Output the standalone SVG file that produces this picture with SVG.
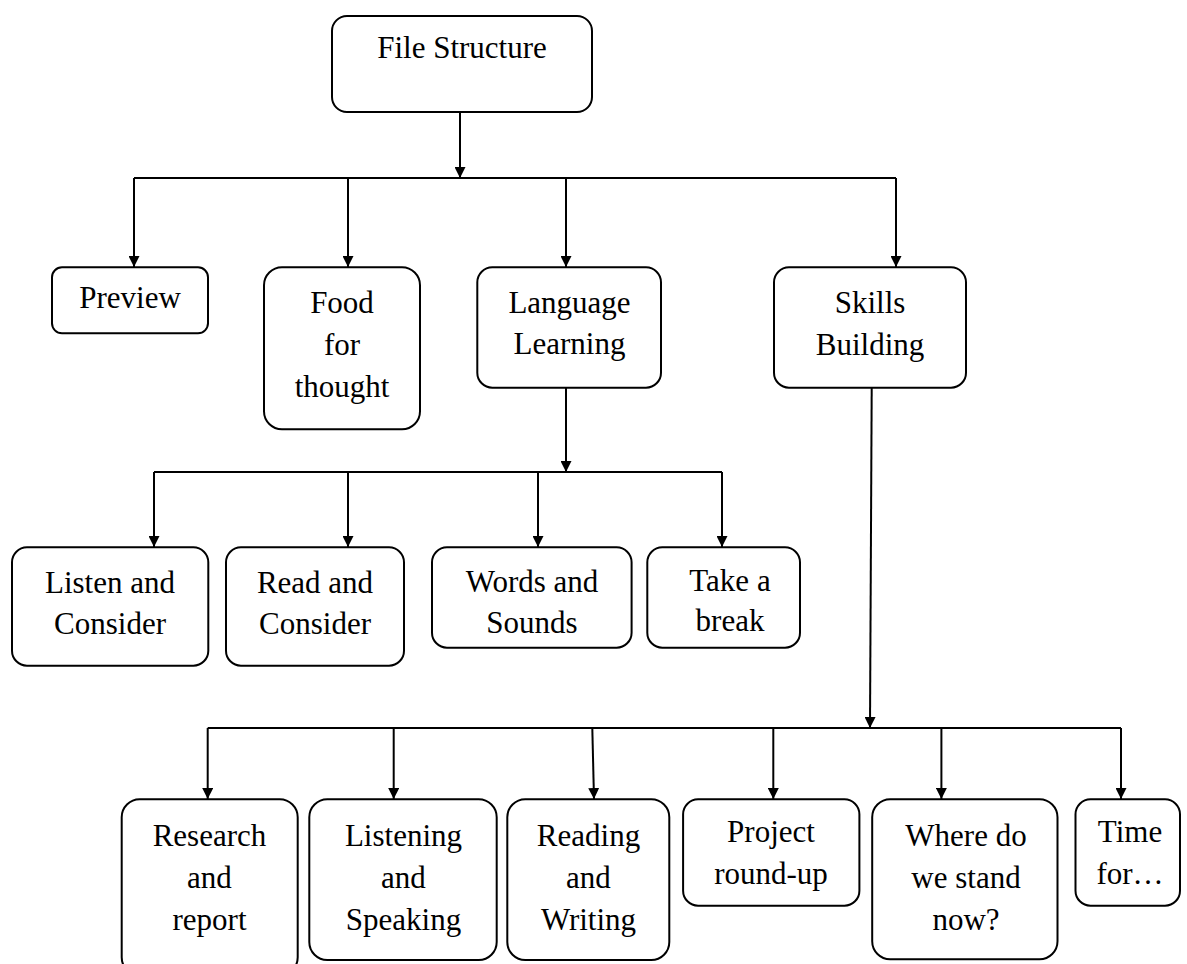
<svg xmlns="http://www.w3.org/2000/svg" width="1187" height="964" viewBox="0 0 1187 964">
<style>
.box{fill:#fff;stroke:#000;stroke-width:2}
.t{font-family:"Liberation Serif","Times New Roman",serif;font-size:31px;fill:#000;text-anchor:middle}
.c{fill:none;stroke:#000;stroke-width:2}
.a{marker-end:url(#arr)}
</style>
<defs>
<marker id="arr" markerUnits="userSpaceOnUse" markerWidth="11" markerHeight="11" refX="11" refY="5.5" orient="auto">
<path d="M0,0 L11,5.5 L0,11 z" fill="#000"/>
</marker>
</defs>
<rect width="1187" height="964" fill="#fff"/>
<g id="connectors">
<path class="c a" d="M460,112 V178"/>
<path class="c" d="M134,178 H896"/>
<path class="c a" d="M134,178 V267"/>
<path class="c a" d="M348,178 V267"/>
<path class="c a" d="M566,178 V267"/>
<path class="c a" d="M896,178 V267"/>
<path class="c a" d="M566,388 V472"/>
<path class="c" d="M154,472 H722"/>
<path class="c a" d="M154,472 V547"/>
<path class="c a" d="M348,472 V547"/>
<path class="c a" d="M538,472 V547"/>
<path class="c a" d="M722,472 V547"/>
<path class="c a" d="M871.7,388 L870,728"/>
<path class="c" d="M207.7,728 H1121"/>
<path class="c a" d="M207.7,728 V799"/>
<path class="c a" d="M393.7,728 V799"/>
<path class="c a" d="M592.3,728 L594,799"/>
<path class="c a" d="M773.3,728 V799"/>
<path class="c a" d="M941.4,728 V799"/>
<path class="c a" d="M1121,728 V799"/>
</g>
<g id="file-structure"><rect class="box" x="332" y="16" width="260" height="96" rx="15"/><text class="t" x="462" y="58">File Structure</text></g>
<g id="preview"><rect class="box" x="52" y="267.3" width="156" height="66" rx="10"/><text class="t" x="130" y="308.3">Preview</text></g>
<g id="food"><rect class="box" x="264" y="267.3" width="156" height="162" rx="18"/><text class="t" x="342" y="312.7">Food</text><text class="t" x="342" y="355">for</text><text class="t" x="342" y="396.7">thought</text></g>
<g id="language"><rect class="box" x="477.3" y="267.3" width="183.7" height="120.4" rx="15"/><text class="t" x="569.5" y="313.3">Language</text><text class="t" x="569.5" y="354">Learning</text></g>
<g id="skills"><rect class="box" x="774" y="267.3" width="192" height="120.4" rx="15"/><text class="t" x="870" y="313.3">Skills</text><text class="t" x="870" y="355">Building</text></g>
<g id="listen"><rect class="box" x="12" y="547.3" width="196.3" height="118.4" rx="15"/><text class="t" x="110" y="592.7">Listen and</text><text class="t" x="110" y="634">Consider</text></g>
<g id="read"><rect class="box" x="226" y="547.3" width="178" height="118.4" rx="15"/><text class="t" x="315" y="592.7">Read and</text><text class="t" x="315" y="634">Consider</text></g>
<g id="words"><rect class="box" x="432" y="547.3" width="199.6" height="100.4" rx="15"/><text class="t" x="532" y="591.7">Words and</text><text class="t" x="532" y="632.7">Sounds</text></g>
<g id="take"><rect class="box" x="647.3" y="547.3" width="152.7" height="100.4" rx="15"/><text class="t" x="730" y="591">Take a</text><text class="t" x="730" y="631">break</text></g>
<g id="research"><rect class="box" x="121.7" y="799.3" width="176" height="176" rx="18"/><text class="t" x="209.5" y="846">Research</text><text class="t" x="209.5" y="888.3">and</text><text class="t" x="209.5" y="930">report</text></g>
<g id="listening"><rect class="box" x="309.3" y="799.3" width="187.4" height="160.7" rx="18"/><text class="t" x="403.5" y="846">Listening</text><text class="t" x="403.5" y="888.3">and</text><text class="t" x="403.5" y="930">Speaking</text></g>
<g id="reading"><rect class="box" x="507.3" y="799.3" width="162" height="160.7" rx="18"/><text class="t" x="588.5" y="846">Reading</text><text class="t" x="588.5" y="888.3">and</text><text class="t" x="588.5" y="930">Writing</text></g>
<g id="project"><rect class="box" x="683.1" y="799.3" width="176.3" height="106.4" rx="15"/><text class="t" x="771" y="841.7">Project</text><text class="t" x="771" y="884">round-up</text></g>
<g id="where"><rect class="box" x="872.2" y="799.3" width="185.3" height="160" rx="18"/><text class="t" x="966" y="846">Where do</text><text class="t" x="966" y="888.3">we stand</text><text class="t" x="966" y="930">now?</text></g>
<g id="time"><rect class="box" x="1075.5" y="799.3" width="104.5" height="106.4" rx="15"/><text class="t" x="1130" y="841.7">Time</text><text class="t" x="1130" y="884">for…</text></g>
</svg>
